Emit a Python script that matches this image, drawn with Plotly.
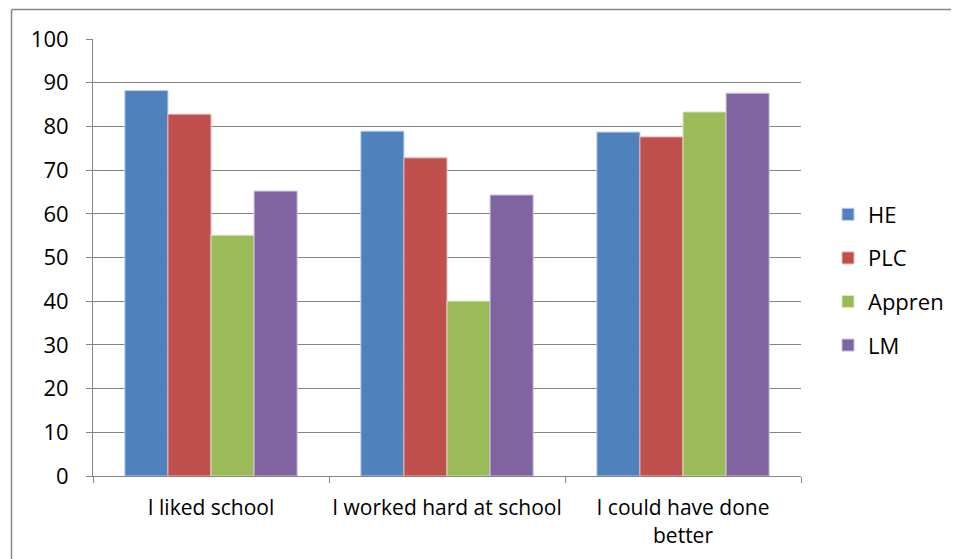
import plotly.graph_objects as go

categories = ["I liked school", "I worked hard at school", "I could have done<br>better"]
series_names = ["HE", "PLC", "Appren", "LM"]
he = [88.2, 78.9, 78.7]
plc = [82.8, 72.8, 77.6]
appren = [55.1, 40.0, 83.3]
lm = [65.2, 64.3, 87.6]
y_ticks = [0, 10, 20, 30, 40, 50, 60, 70, 80, 90, 100]

colors = ["#4F81BD", "#C0504D", "#9BBB59", "#8064A2"]
edges = ["#B9CDE5", "#E6B9B8", "#D7E4BD", "#CCC1DA"]

W, H = 959, 559
L, R, T, B = 85, 166, 31, 91
pw, ph = W - L - R, H - T - B


def px(fx):
    return (fx - L) / pw


def py(fy):
    return (H - B - fy) / ph


fig = go.Figure()
for name, vals, c, e in zip(series_names, [he, plc, appren, lm], colors, edges):
    fig.add_trace(go.Bar(x=categories, y=vals, name=name, legendgroup=name,
                         marker=dict(color=c, line=dict(color=e, width=1))))

font = "'Open Sans', sans-serif"
border = dict(color="#868686", width=1.5)
fig.update_layout(
    width=W, height=H,
    margin=dict(l=L, r=R, t=T, b=B),
    paper_bgcolor="white", plot_bgcolor="white",
    barmode="group", bargap=0.27, bargroupgap=0,
    font=dict(family=font, size=22, color="black"),
    showlegend=True,
    legend=dict(x=px(820), y=py(272), xanchor="left", yanchor="middle",
                tracegroupgap=12, font=dict(size=22), itemwidth=30),
    xaxis=dict(showline=True, linecolor="#868686", linewidth=1,
               ticks="outside", tickson="boundaries", ticklen=6, tickcolor="#868686",
               showgrid=False, tickfont=dict(size=21), ticklabelstandoff=13,
               tickangle=0, automargin=False),
    yaxis=dict(range=[0, 100], tickvals=y_ticks, showline=True, linecolor="#868686",
               linewidth=1, ticks="outside", ticklen=6, tickcolor="#868686",
               showgrid=True, gridcolor="#868686", gridwidth=1, zeroline=False,
               tickfont=dict(size=22), ticklabelstandoff=13, automargin=False),
    shapes=[
        dict(type="line", xref="paper", yref="paper",
             x0=px(3.5), x1=px(1200), y0=py(1.5), y1=py(1.5), line=border),
        dict(type="line", xref="paper", yref="paper",
             x0=px(3.5), x1=px(3.5), y0=py(1.5), y1=py(900), line=border),
    ],
)
fig.write_html("out.html")
